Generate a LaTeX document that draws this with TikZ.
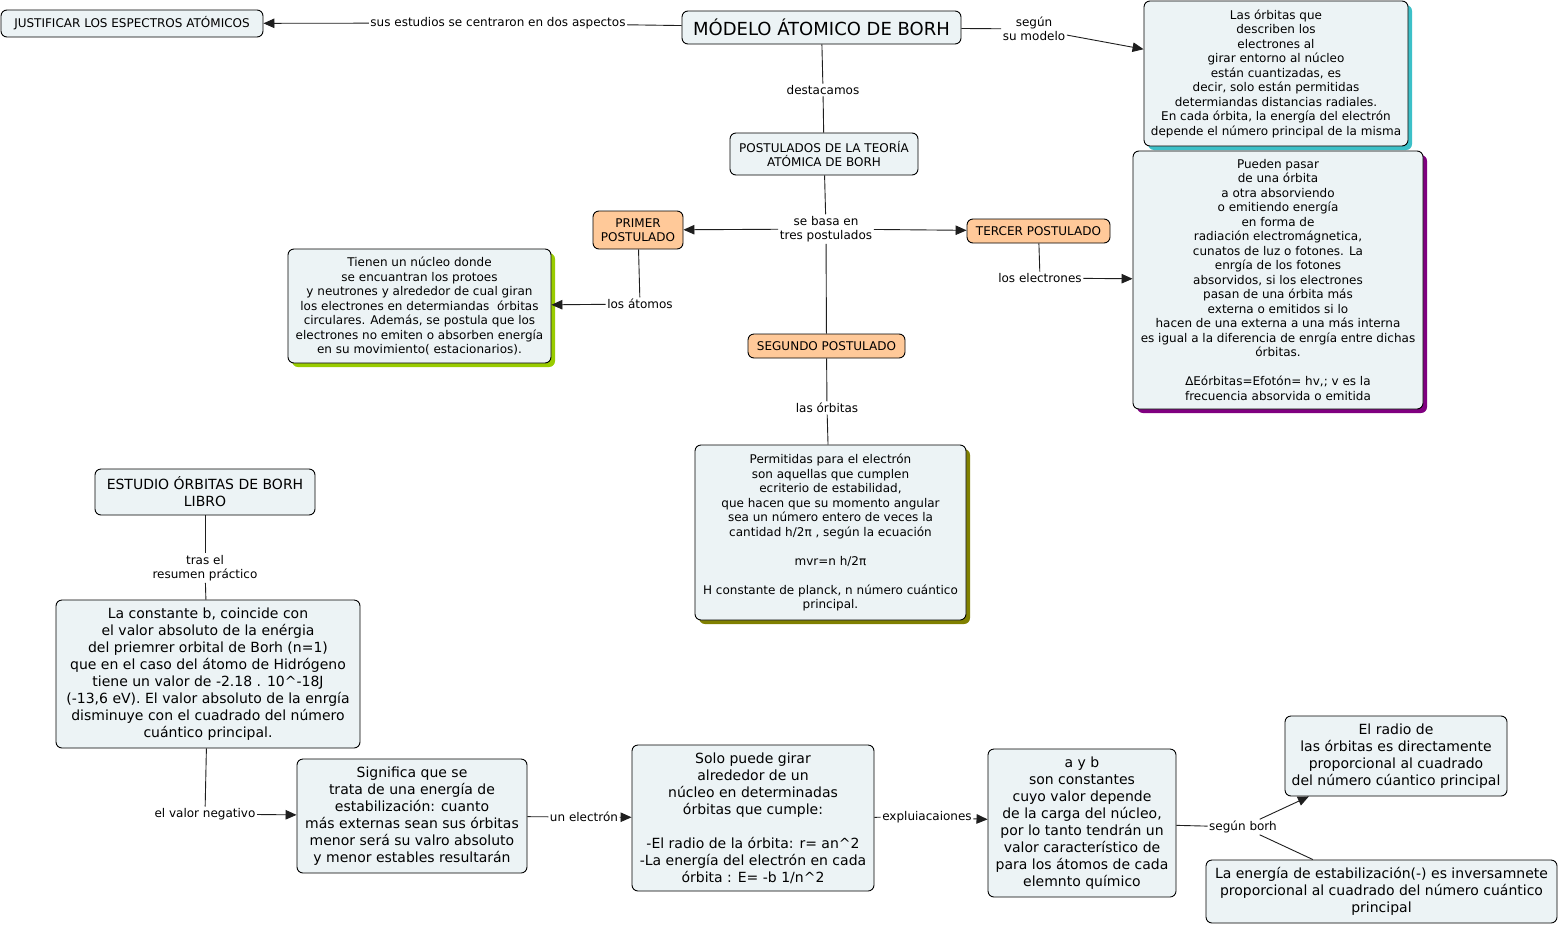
\documentclass[tikz,border=0pt]{standalone}
\usepackage{fontspec}
\setmainfont{DejaVu Sans}
\usetikzlibrary{arrows.meta,shadows}
\definecolor{boxfill}{RGB}{236,243,245}
\definecolor{orangefill}{RGB}{255,201,153}
\definecolor{tealsh}{RGB}{60,192,200}
\definecolor{greensh}{RGB}{153,204,0}
\definecolor{purplesh}{RGB}{128,0,128}
\definecolor{olivesh}{RGB}{128,128,0}
\definecolor{linecol}{RGB}{30,30,30}
\newcommand\sfnt{\fontsize{12}{14.5}\selectfont}
\newcommand\lfnt{\fontsize{14}{17}\selectfont}
\newcommand\tfnt{\fontsize{18}{21}\selectfont}
\begin{document}
\begin{tikzpicture}[x=1pt,y=-1pt,
  box/.style={draw=black, line width=0.9pt, fill=boxfill, rounded corners=6pt, align=center, inner sep=2pt, font=\sfnt},
  big/.style={box, font=\lfnt},
  obox/.style={box, fill=orangefill},
  shad/.style={drop shadow={shadow xshift=4pt, shadow yshift=-4pt, fill=#1, opacity=1}},
  lbl/.style={fill=white, inner sep=1.5pt, align=center, font=\sfnt},
  conn/.style={draw=linecol, line width=0.9pt},
  arr/.style={conn, -{Triangle[length=11pt,width=9.5pt]}}]

\fill[white] (0,0) rectangle (1559,927);
\useasboundingbox (0,0) rectangle (1559,927);

% nodes
\node[box, minimum width=262pt, minimum height=27pt] (just) at (132,23.5) {JUSTIFICAR LOS ESPECTROS ATÓMICOS};
\node[box, font=\tfnt, minimum width=279pt, minimum height=33pt] (title) at (821.5,27.5) {MÓDELO ÁTOMICO DE BORH};
\node[box, shad=tealsh, minimum width=264pt, minimum height=145pt] (lasorb) at (1276,73.5) {Las órbitas que\\ describen los\\ electrones al\\ girar entorno al núcleo\\ están cuantizadas, es\\ decir, solo están permitidas\\ determiandas distancias radiales.\\ En cada órbita, la energía del electrón\\ depende el número principal de la misma};
\node[box, minimum width=188pt, minimum height=42pt] (post) at (824,154) {POSTULADOS DE LA TEORÍA\\ ATÓMICA DE BORH};
\node[obox, minimum width=90pt, minimum height=38pt] (primer) at (638,230) {PRIMER\\ POSTULADO};
\node[obox, minimum width=143pt, minimum height=24pt] (tercer) at (1038.5,231) {TERCER POSTULADO};
\node[obox, minimum width=157pt, minimum height=24pt] (segundo) at (826.5,346) {SEGUNDO POSTULADO};
\node[box, shad=greensh, minimum width=263pt, minimum height=114pt] (tienen) at (419.5,306) {Tienen un núcleo donde\\ se encuantran los protoes\\ y neutrones y alrededor de cual giran\\ los electrones en determiandas\ \ órbitas\\ circulares. Además, se postula que los\\ electrones no emiten o absorben energía\\ en su movimiento( estacionarios).};
\node[box, shad=purplesh, minimum width=290pt, minimum height=258pt] (pueden) at (1278,280) {Pueden pasar\\ de una órbita\\ a otra absorviendo\\ o emitiendo energía\\ en forma de\\ radiación electromágnetica,\\ cunatos de luz o fotones. La\\ enrgía de los fotones\\ absorvidos, si los electrones\\ pasan de una órbita más\\ externa o emitidos si lo\\ hacen de una externa a una más interna\\ es igual a la diferencia de enrgía entre dichas\\ órbitas.\\[14.5pt] ∆Eórbitas=Efotón= hv,; v es la\\ frecuencia absorvida o emitida};
\node[box, shad=olivesh, minimum width=271pt, minimum height=175pt] (perm) at (830.5,532.5) {Permitidas para el electrón\\ son aquellas que cumplen\\ ecriterio de estabilidad,\\ que hacen que su momento angular\\ sea un número entero de veces la\\ cantidad h/2π , según la ecuación\\[14.5pt] mvr=n h/2π\\[14.5pt] H constante de planck, n número cuántico\\ principal.};
\node[big, minimum width=220pt, minimum height=46pt] (estudio) at (205,492) {ESTUDIO ÓRBITAS DE BORH\\ LIBRO};
\node[big, minimum width=304pt, minimum height=148pt] (const) at (208,674) {La constante b, coincide con\\ el valor absoluto de la enérgia\\ del priemrer orbital de Borh (n=1)\\ que en el caso del átomo de Hidrógeno\\ tiene un valor de -2.18 . 10\^{}-18J\\ (-13,6 eV). El valor absoluto de la enrgía\\ disminuye con el cuadrado del número\\ cuántico principal.};
\node[big, minimum width=230pt, minimum height=114pt] (signif) at (412,816) {Significa que se\\ trata de una energía de\\ estabilización: cuanto\\ más externas sean sus órbitas\\ menor será su valro absoluto\\ y menor estables resultarán};
\node[big, minimum width=242pt, minimum height=146pt] (solo) at (753,818) {Solo puede girar\\ alrededor de un\\ núcleo en determinadas\\ órbitas que cumple:\\[17pt] -El radio de la órbita: r= an\^{}2\\ -La energía del electrón en cada\\ órbita : E= -b 1/n\^{}2};
\node[big, minimum width=188pt, minimum height=148pt] (ayb) at (1082,823) {a y b\\ son constantes\\ cuyo valor depende\\ de la carga del núcleo,\\ por lo tanto tendrán un\\ valor característico de\\ para los átomos de cada\\ elemnto químico};
\node[big, minimum width=222pt, minimum height=80pt] (radio) at (1396,756) {El radio de\\ las órbitas es directamente\\ proporcional al cuadrado\\ del número cúantico principal};
\node[big, minimum width=351pt, minimum height=63pt] (energia) at (1381.5,891.5) {La energía de estabilización(-) es inversamnete\\ proporcional al cuadrado del número cuántico\\ principal};

% labels
\node[lbl] (l1) at (498,23) {sus estudios se centraron en dos aspectos};
\node[lbl] (l2) at (1034,29) {según\\ su modelo};
\node[lbl] (l3) at (823,90) {destacamos};
\node[lbl] (l4) at (826,229) {se basa en\\ tres postulados};
\node[lbl] (l5) at (640,304) {los átomos};
\node[lbl] (l6) at (1040,278) {los electrones};
\node[lbl] (l7) at (827,408) {las órbitas};
\node[lbl] (l8) at (205,568) {tras el\\ resumen práctico};
\node[lbl] (l9) at (205,814) {el valor negativo};
\node[lbl] (l10) at (584,817) {un electrón};
\node[lbl] (l11) at (927,817) {expluiacaiones};
\node[lbl] (l12) at (1243,827) {según borh};

% connectors
\draw[conn] (title) -- (l1);
\draw[arr] (l1) -- (just);
\draw[conn] (title) -- (l2);
\draw[arr] (l2) -- (lasorb);
\draw[conn] (title) -- (l3);
\draw[conn] (l3) -- (post);
\draw[conn] (post) -- (l4);
\draw[arr] (l4) -- (primer);
\draw[arr] (l4) -- (tercer);
\draw[conn] (l4) -- (segundo);
\draw[conn] (primer) -- (l5);
\draw[arr] (l5) -- (tienen);
\draw[conn] (tercer) -- (l6);
\draw[arr] (l6) -- (pueden);
\draw[conn] (segundo) -- (l7);
\draw[conn] (l7) -- (perm);
\draw[conn] (estudio) -- (l8);
\draw[conn] (l8) -- (const);
\draw[conn] (const) -- (l9);
\draw[arr] (l9) -- (signif);
\draw[conn] (signif) -- (l10);
\draw[arr] (l10) -- (solo);
\draw[conn] (solo) -- (l11);
\draw[arr] (l11) -- (ayb);
\draw[conn] (ayb) -- (l12);
\draw[arr] (l12) -- (radio);
\draw[conn] (l12) -- (energia);
\end{tikzpicture}
\end{document}
